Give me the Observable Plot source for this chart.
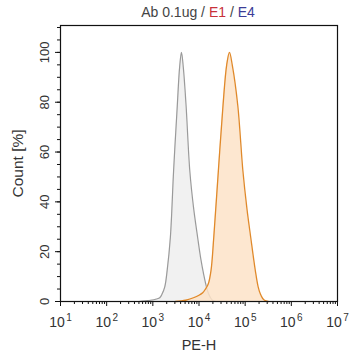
<!DOCTYPE html>
<html><head><meta charset="utf-8">
<script src="https://cdn.jsdelivr.net/npm/d3@7"></script>
<script src="https://cdn.jsdelivr.net/npm/@observablehq/plot@0.6"></script>
<style>
body{margin:0;background:#fff;font-family:"Liberation Sans",Arial,sans-serif;}
#title{height:22px;line-height:24px;text-align:center;font-size:14px;color:#444;width:356px;padding-left:40px;box-sizing:border-box;white-space:nowrap}
</style></head><body>
<div id="title"><span>Ab 0.1ug / </span><span style="color:#c8313a">E1</span><span> / </span><span style="color:#3c3c96">E4</span></div>
<div id="chart"></div>
<script>
// log10 intensity (PE-H) and count [%]
const grayLog   = [2.70, 2.84, 2.95, 3.08, 3.15, 3.20, 3.26, 3.31, 3.38, 3.45, 3.53, 3.58, 3.62, 3.66, 3.72, 3.80, 3.88, 3.97, 4.04, 4.10, 4.16, 4.21, 4.26, 4.30, 4.36];
const grayCount = [0,    0.3,  0.5,  1,    1.5,  3,    6,    12.4, 25.8, 52.6, 78.7, 94,   100,  94,   78.7, 52.6, 38,   25.8, 17,   11,   6,    3,    1.2,  0.4,  0];
const orangeLog   = [3.49, 3.71, 3.88, 4.00, 4.08, 4.14, 4.20, 4.26, 4.32, 4.42, 4.52, 4.60, 4.66, 4.72, 4.84, 4.95, 5.04, 5.12, 5.22, 5.28, 5.33, 5.38, 5.42, 5.50];
const orangeCount = [0,    0.5,  1.5,  2.5,  3.5,  5,    7,    12.4, 25.8, 52.6, 78.7, 95,   100,  95,   78.7, 52.6, 37,   25.8, 12.4, 6,    3,    1.2,  0.5,  0];
const xMajor = [1, 2, 3, 4, 5, 6, 7];
const yMajor = [0, 20, 40, 60, 80, 100];
const xLabel = "PE-H";
const yLabel = "Count [%]";

const gray = grayLog.map((l, i) => ({x: Math.pow(10, l), y: grayCount[i]}));
const orange = orangeLog.map((l, i) => ({x: Math.pow(10, l), y: orangeCount[i]}));
const majorVals = xMajor.map(e => Math.pow(10, e));
const minorVals = [];
for (let e = 1; e < 7; e++) for (let m = 2; m <= 9; m++) minorVals.push(m * Math.pow(10, e));

const chart = Plot.plot({
  width: 356,
  height: 338,
  marginTop: 3,
  marginBottom: 59,
  marginLeft: 60,
  marginRight: 19,
  style: {fontFamily: "Liberation Sans, Arial, sans-serif", color: "#333", background: "#fff"},
  x: {type: "log", domain: [10, 1e7]},
  y: {domain: [0, 110.8]},
  marks: [
    Plot.areaY(gray, {x: "x", y: "y", fill: "#efefef", fillOpacity: 0.9, curve: "catmull-rom"}),
    Plot.lineY(gray, {x: "x", y: "y", stroke: "#9a9a9a", strokeWidth: 1.2, curve: "catmull-rom"}),
    Plot.areaY(orange, {x: "x", y: "y", fill: "#fde3c8", fillOpacity: 0.85, curve: "catmull-rom"}),
    Plot.lineY(orange, {x: "x", y: "y", stroke: "#e0892a", strokeWidth: 1.3, curve: "catmull-rom"}),
    Plot.axisX(majorVals, {tickSize: 5, stroke: "#111", text: null, label: null}),
    Plot.axisX(minorVals, {tickSize: 3, stroke: "#111", text: null, label: null}),
    Plot.axisY(d3.range(0, 111, 5), {tickSize: 3, stroke: "#111", text: null, label: null}),
    Plot.axisY(yMajor, {tickSize: 5, stroke: "#111", tickRotate: -90, tickPadding: 7, fontSize: 13, fill: "#333", label: null}),
    Plot.text(majorVals, {x: d => d, frameAnchor: "bottom", text: () => "10", dy: 25, dx: -3.5, fontSize: 14, fill: "#333"}),
    Plot.text(xMajor, {x: e => Math.pow(10, e), frameAnchor: "bottom", text: e => String(e), dy: 19, dx: 8.5, fontSize: 10, fill: "#333"}),
    Plot.text([xLabel], {frameAnchor: "bottom", text: d => d, dy: 48, fontSize: 14.5, fill: "#333"}),
    Plot.text([yLabel], {frameAnchor: "left", textAnchor: "middle", lineAnchor: "middle", text: d => d, rotate: -90, dx: -42, fontSize: 15.5, fill: "#333"}),
    Plot.frame({stroke: "#111", strokeWidth: 1.2})
  ]
});
document.getElementById("chart").appendChild(chart);
</script>
</body></html>
